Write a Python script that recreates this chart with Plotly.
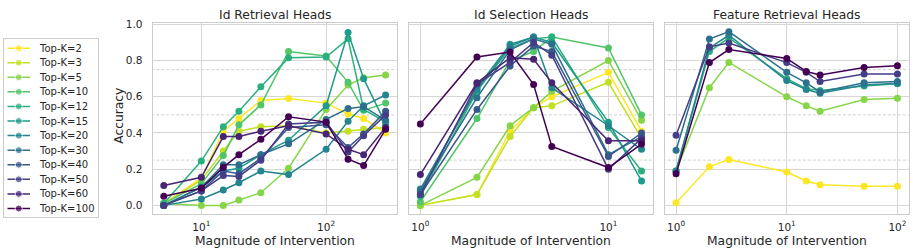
import math
import plotly.graph_objects as go

W, H = 913, 252

# ---------------- data ----------------
top_k = [2, 3, 5, 10, 12, 15, 20, 30, 40, 50, 60, 100]
colors = ["#fde725", "#c2df23", "#86d549", "#52c569", "#2ab07f", "#1e9b8a",
          "#25858e", "#2d708e", "#38588c", "#433e85", "#482475", "#440154"]

titles = ["Id Retrieval Heads", "Id Selection Heads", "Feature Retrieval Heads"]
x_label = "Magnitude of Intervention"
y_label = "Accuracy"

# Panel 1: Id Retrieval Heads
x_ret = [5, 10, 15, 20, 30, 50, 100, 150, 200, 300]
ret_acc = {
    2:   [0.01, 0.15, 0.41, 0.48, 0.58, 0.59, 0.565, 0.505, 0.48, 0.40],
    3:   [0.01, 0.14, 0.30, 0.41, 0.435, 0.44, 0.40, 0.41, 0.42, 0.43],
    5:   [0.01, 0.00, 0.00, 0.03, 0.07, 0.205, 0.53, 0.665, 0.705, 0.72],
    10:  [0.01, 0.12, 0.275, 0.445, 0.555, 0.85, 0.825, 0.68, 0.525, 0.565],
    12:  [0.01, 0.245, 0.435, 0.52, 0.655, 0.815, 0.82, 0.92, 0.53, 0.46],
    15:  [0.00, 0.10, 0.19, 0.205, 0.28, 0.36, 0.55, 0.955, 0.70, 0.45],
    20:  [0.00, 0.035, 0.085, 0.125, 0.19, 0.17, 0.31, 0.465, 0.55, 0.61],
    30:  [0.00, 0.10, 0.225, 0.225, 0.28, 0.34, 0.475, 0.535, 0.545, 0.47],
    40:  [0.00, 0.08, 0.19, 0.175, 0.26, 0.43, 0.445, 0.32, 0.395, 0.52],
    50:  [0.00, 0.08, 0.165, 0.16, 0.25, 0.45, 0.46, 0.295, 0.385, 0.50],
    60:  [0.11, 0.155, 0.38, 0.38, 0.41, 0.44, 0.395, 0.31, 0.28, 0.43],
    100: [0.05, 0.095, 0.21, 0.28, 0.365, 0.49, 0.46, 0.255, 0.22, 0.42],
}

# Panel 2: Id Selection Heads
x_sel = [1, 2, 3, 4, 5, 10, 15]
sel_acc = {
    2:   [0.00, 0.06, 0.41, 0.54, 0.60, 0.735, 0.41],
    3:   [0.00, 0.06, 0.38, 0.54, 0.55, 0.68, 0.37],
    5:   [0.00, 0.155, 0.44, 0.54, 0.63, 0.80, 0.47],
    10:  [0.02, 0.48, 0.80, 0.85, 0.93, 0.87, 0.50],
    12:  [0.05, 0.63, 0.87, 0.92, 0.93, 0.43, 0.19],
    15:  [0.08, 0.65, 0.89, 0.93, 0.90, 0.46, 0.135],
    20:  [0.09, 0.64, 0.88, 0.93, 0.65, 0.44, 0.31],
    30:  [0.08, 0.595, 0.86, 0.92, 0.89, 0.28, 0.38],
    40:  [0.06, 0.53, 0.77, 0.88, 0.85, 0.27, 0.40],
    50:  [0.06, 0.67, 0.79, 0.90, 0.83, 0.20, 0.37],
    60:  [0.17, 0.677, 0.816, 0.807, 0.677, 0.357, 0.357],
    100: [0.45, 0.82, 0.847, 0.668, 0.326, 0.209, 0.339],
}

# Panel 3: Feature Retrieval Heads
x_feat = [1, 2, 3, 10, 15, 20, 50, 100]
feat_acc = {
    2:   [0.014, 0.213, 0.254, 0.184, 0.135, 0.114, 0.106, 0.106],
    5:   [0.19, 0.65, 0.79, 0.60, 0.55, 0.52, 0.585, 0.592],
    12:  [0.19, 0.85, 0.925, 0.70, 0.645, 0.635, 0.66, 0.672],
    20:  [0.19, 0.87, 0.94, 0.69, 0.64, 0.62, 0.665, 0.675],
    30:  [0.305, 0.919, 0.96, 0.735, 0.677, 0.627, 0.677, 0.684],
    50:  [0.387, 0.876, 0.897, 0.789, 0.735, 0.684, 0.726, 0.726],
    100: [0.175, 0.789, 0.861, 0.812, 0.74, 0.72, 0.762, 0.771],
}

ref_lines = [0.25, 0.5, 0.75]
y_ticks = [0.0, 0.2, 0.4, 0.6, 0.8, 1.0]

# ---------------- layout helpers ----------------
FONT = "DejaVu Sans"
TXT = "#262626"
color_of = dict(zip(top_k, colors))

def fx(p):
    return p / W

def fy(p):
    return 1 - p / H

panel_px = [(152.7, 396.7), (409.3, 652.6), (665.0, 908.5)]
plot_top, plot_bot = 18.3, 213.3
panels = [(x_ret, ret_acc), (x_sel, sel_acc), (x_feat, feat_acc)]

def log_range(xs):
    lo, hi = math.log10(min(xs)), math.log10(max(xs))
    pad = 0.05 * (hi - lo)
    return [lo - pad, hi + pad]

ymax = max(max(v) for _, d in panels for v in d.values())
yrange = [-0.05 * ymax, ymax * 1.05]

fig = go.Figure()
shapes, annotations = [], []
axes = {}

for i, (xs, data) in enumerate(panels, start=1):
    sfx = "" if i == 1 else str(i)
    for k in top_k:
        if k not in data:
            continue
        fig.add_trace(go.Scatter(
            x=xs, y=data[k], mode="lines+markers", name=f"Top-K={k}",
            line=dict(color=color_of[k], width=1.5),
            marker=dict(color=color_of[k], size=7),
            xaxis=f"x{sfx}", yaxis=f"y{sfx}",
        ))
    rng = log_range(xs)
    decades = [10 ** d for d in range(math.ceil(rng[0]), math.floor(rng[1]) + 1)]
    x0, x1 = panel_px[i - 1]
    axes[f"xaxis{sfx}"] = dict(
        type="log", range=rng, domain=[fx(x0), fx(x1)], anchor=f"y{sfx}",
        tickmode="array", tickvals=decades,
        ticktext=[f"10<sup>{int(round(math.log10(d)))}</sup>" for d in decades],
        showline=True, mirror=True, linecolor="#cccccc", linewidth=1.25,
        showgrid=True, gridcolor="#d6d6d6", gridwidth=1, zeroline=False,
        ticks="outside", ticklen=3, tickcolor="rgba(0,0,0,0)",
        tickfont=dict(size=10.5, color=TXT, family=FONT),
    )
    axes[f"yaxis{sfx}"] = dict(
        range=yrange, domain=[fy(plot_bot), fy(plot_top)], anchor=f"x{sfx}",
        tickmode="array", tickvals=y_ticks, tickformat=".1f",
        showticklabels=(i == 1),
        showline=True, mirror=True, linecolor="#cccccc", linewidth=1.25,
        showgrid=True, gridcolor="#d6d6d6", gridwidth=1, zeroline=False,
        ticks="outside", ticklen=7, tickcolor="rgba(0,0,0,0)",
        tickfont=dict(size=10.5, color=TXT, family=FONT),
    )
    for v in ref_lines:
        shapes.append(dict(
            type="line", xref=f"x{sfx}", yref=f"y{sfx}",
            x0=xs[0] / 2, x1=xs[-1] * 2, y0=v, y1=v, layer="below",
            line=dict(color="#c4c4c4", width=0.8, dash="3px,2px"),
        ))
    annotations.append(dict(
        text=titles[i - 1], xref="paper", yref="paper",
        x=fx((x0 + x1) / 2), y=fy(10.5), xanchor="center", yanchor="middle",
        showarrow=False, font=dict(size=12.3, color=TXT, family=FONT),
    ))
    annotations.append(dict(
        text=x_label, xref="paper", yref="paper",
        x=fx((x0 + x1) / 2), y=fy(241), xanchor="center", yanchor="middle",
        showarrow=False, font=dict(size=12.3, color=TXT, family=FONT),
    ))

annotations.append(dict(
    text=y_label, xref="paper", yref="paper", textangle=-90,
    x=fx(119), y=fy(113), xanchor="center", yanchor="middle",
    showarrow=False, font=dict(size=12.3, color=TXT, family=FONT),
))

# ---------------- legend (boxed, left side) ----------------
leg_x0, leg_x1, leg_y0 = 4.0, 98.0, 35.0
first_item, item_step = 44.0, 14.87
leg_y1 = first_item + item_step * (len(top_k) - 1) + 9
axes["xaxis4"] = dict(domain=[fx(leg_x0), fx(leg_x1)], range=[leg_x0, leg_x1],
                      anchor="y4", showgrid=False, zeroline=False,
                      showticklabels=False, ticks="", showline=True, mirror=True,
                      linecolor="#cccccc", linewidth=1, fixedrange=True)
axes["yaxis4"] = dict(domain=[fy(leg_y1), fy(leg_y0)], range=[leg_y1, leg_y0],
                      anchor="x4", showgrid=False, zeroline=False,
                      showticklabels=False, ticks="", showline=True, mirror=True,
                      linecolor="#cccccc", linewidth=1, fixedrange=True)
for j, k in enumerate(top_k):
    yy = first_item + item_step * j
    fig.add_trace(go.Scatter(
        x=[7.5, 18.75, 30.0], y=[yy, yy, yy], mode="lines+markers",
        line=dict(color=color_of[k], width=1.5),
        marker=dict(color=color_of[k], size=[0, 7, 0]),
        xaxis="x4", yaxis="y4", hoverinfo="skip",
    ))
    annotations.append(dict(
        text=f"Top-K={k}", xref="x4", yref="y4", x=37, y=yy,
        xanchor="left", yanchor="middle", showarrow=False,
        font=dict(size=10, color=TXT, family=FONT),
    ))

fig.update_layout(
    width=W, height=H, margin=dict(l=0, r=0, t=0, b=0, pad=0),
    autosize=False,
    paper_bgcolor="white", plot_bgcolor="white",
    font=dict(family=FONT, color=TXT), showlegend=False,
    shapes=shapes, annotations=annotations, **axes,
)
fig.write_html(
    "out.html",
    config={"displayModeBar": False},
    post_script="document.body.style.margin='0';document.body.style.overflow='hidden';",
)
